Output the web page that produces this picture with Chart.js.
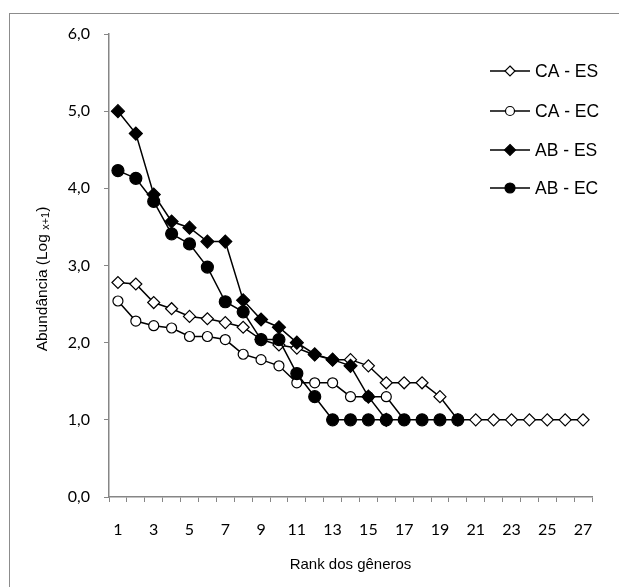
<!DOCTYPE html>
<html>
<head>
<meta charset="utf-8">
<script src="https://cdn.jsdelivr.net/npm/chart.js@4.4.0/dist/chart.umd.min.js"></script>
<style>
  body { margin: 0; background: #fff; }
</style>
</head>
<body>
<canvas id="chart" width="619" height="587"></canvas>
<script>
const ranks = ['1','2','3','4','5','6','7','8','9','10','11','12','13','14','15','16','17','18','19','20','21','22','23','24','25','26','27'];
const caEs = [2.78, 2.76, 2.52, 2.44, 2.34, 2.31, 2.26, 2.2, 2.04, 1.97, 1.93, 1.84, 1.78, 1.78, 1.7, 1.48, 1.48, 1.48, 1.3, 1.0, 1.0, 1.0, 1.0, 1.0, 1.0, 1.0, 1.0];
const caEc = [2.54, 2.28, 2.22, 2.19, 2.08, 2.08, 2.04, 1.85, 1.78, 1.7, 1.48, 1.48, 1.48, 1.3, 1.3, 1.3, 1.0];
const abEs = [5.0, 4.71, 3.92, 3.57, 3.49, 3.31, 3.31, 2.55, 2.3, 2.2, 2.0, 1.85, 1.78, 1.7, 1.3, 1.0];
const abEc = [4.23, 4.13, 3.83, 3.41, 3.28, 2.98, 2.53, 2.4, 2.04, 2.04, 1.6, 1.3, 1.0, 1.0, 1.0, 1.0, 1.0, 1.0, 1.0, 1.0];
const seriesNames = ['CA - ES', 'CA - EC', 'AB - ES', 'AB - EC'];

const axisGray = '#868686';
const arial = '"Liberation Sans", Arial, sans-serif';

function drawMarker(ctx, style, fill, r, x, y) {
    ctx.beginPath();
    if (style === 'rectRot') {
        ctx.moveTo(x, y - r);
        ctx.lineTo(x + r, y);
        ctx.lineTo(x, y + r);
        ctx.lineTo(x - r, y);
        ctx.closePath();
    } else {
        ctx.arc(x, y, r, 0, Math.PI * 2);
    }
    ctx.fillStyle = fill;
    ctx.fill();
    ctx.lineWidth = 1.2;
    ctx.strokeStyle = '#000';
    ctx.stroke();
}

// frame, y title and legend drawn by hand like the original sheet
const decor = {
    id: 'decor',
    beforeDraw(chart) {
        const ctx = chart.ctx;
        ctx.save();
        ctx.strokeStyle = '#8c8c8c';
        ctx.lineWidth = 1;
        ctx.strokeRect(9.5, 13.5, 640, 620);
        ctx.restore();
    },
    afterDraw(chart) {
        const ctx = chart.ctx;
        ctx.save();
        // y axis title with subscript
        ctx.translate(43, 279);
        ctx.rotate(-Math.PI / 2);
        ctx.fillStyle = '#000';
        ctx.textBaseline = 'middle';
        const big = '15.5px ' + arial;
        const small = '11px ' + arial;
        const parts = [['Abundância (Log ', big, 0], ['x+1', small, 3], [')', big, 0]];
        let total = 0;
        parts.forEach(p => { ctx.font = p[1]; total += ctx.measureText(p[0]).width; });
        let x = -total / 2;
        parts.forEach(p => {
            ctx.font = p[1];
            ctx.fillText(p[0], x, p[2]);
            x += ctx.measureText(p[0]).width;
        });
        ctx.restore();

        // legend
        ctx.save();
        const rows = [71, 111, 150, 188];
        const styles = [['rectRot', '#fff', 5], ['circle', '#fff', 4.5], ['rectRot', '#000', 5.5], ['circle', '#000', 5]];
        rows.forEach((y, i) => {
            ctx.beginPath();
            ctx.moveTo(490, y);
            ctx.lineTo(530, y);
            ctx.strokeStyle = '#000';
            ctx.lineWidth = 1.5;
            ctx.stroke();
            drawMarker(ctx, styles[i][0], styles[i][1], styles[i][2], 510, y);
            ctx.fillStyle = '#000';
            ctx.font = '17.5px ' + arial;
            ctx.textBaseline = 'middle';
            ctx.fillText(seriesNames[i], 535, y + 1);
        });
        ctx.restore();
    }
};

function line(label, data, style, fill, r, order) {
    return {
        label: label,
        data: data,
        borderColor: '#000',
        borderWidth: 1.5,
        pointStyle: style,
        pointRadius: r,
        pointBackgroundColor: fill,
        pointBorderColor: '#000',
        pointBorderWidth: 1.2,
        tension: 0,
        fill: false,
        order: order
    };
}

function renderChart() {
    const ctx = document.getElementById('chart').getContext('2d');
    new Chart(ctx, {
        type: 'line',
        data: {
            labels: ranks,
            datasets: [
                line(seriesNames[0], caEs, 'rectRot', '#fff', 6, 3),
                line(seriesNames[1], caEc, 'circle', '#fff', 5, 2),
                line(seriesNames[2], abEs, 'rectRot', '#000', 6.5, 1),
                line(seriesNames[3], abEc, 'circle', '#000', 6, 0)
            ]
        },
        options: {
            responsive: false,
            animation: false,
            layout: { padding: { top: 34, right: 27, left: 0, bottom: 0 } },
            plugins: {
                legend: { display: false },
                tooltip: { enabled: false }
            },
            scales: {
                x: {
                    type: 'category',
                    offset: true,
                    afterFit(scale) { scale.height = 90; },
                    grid: {
                        offset: true,
                        drawOnChartArea: false,
                        drawTicks: true,
                        tickLength: 5,
                        color: axisGray
                    },
                    border: { display: true, color: axisGray, width: 1.5 },
                    ticks: {
                        autoSkip: false,
                        maxRotation: 0,
                        padding: 18,
                        color: '#000',
                        font: { family: 'Lato, "Open Sans", sans-serif', size: 16 },
                        callback(v, i) { return i % 2 === 0 ? ranks[i] : ''; }
                    },
                    title: {
                        display: true,
                        text: 'Rank dos gêneros',
                        color: '#000',
                        font: { family: arial, size: 15 },
                        padding: { top: 0, bottom: 13 }
                    }
                },
                y: {
                    min: 0,
                    max: 6,
                    afterFit(scale) { scale.width = 109; },
                    grid: {
                        drawOnChartArea: false,
                        drawTicks: true,
                        tickLength: 5,
                        color: axisGray
                    },
                    border: { display: true, color: axisGray, width: 1.5 },
                    ticks: {
                        stepSize: 1,
                        padding: 14,
                        color: '#000',
                        font: { family: 'Lato, "Open Sans", sans-serif', size: 16 },
                        callback(v) { return v.toFixed(1).replace('.', ','); }
                    }
                }
            }
        },
        plugins: [decor]
    });
}

renderChart();
</script>
</body>
</html>
